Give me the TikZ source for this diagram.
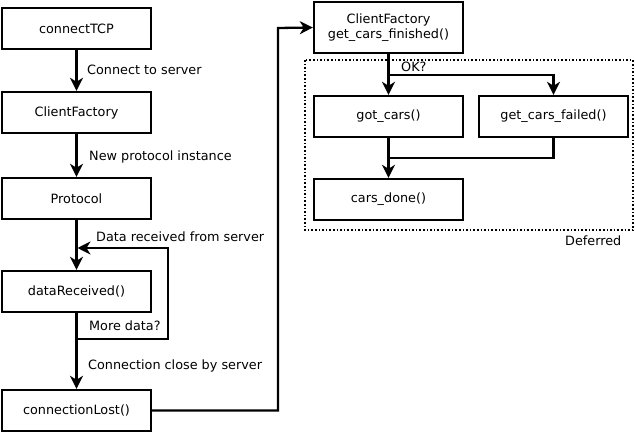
\documentclass[tikz,border=0pt]{standalone}
\usepackage{fontspec}
\setmainfont{DejaVu Sans}
\usetikzlibrary{arrows.meta}
\begin{document}
\begin{tikzpicture}[x=1pt,y=-1pt,
  font=\fontsize{12.8}{15}\selectfont,
  box/.style={draw,line width=2.4pt,minimum width=149pt,minimum height=41pt,inner sep=0pt,align=center},
  arr/.style={line width=2.3pt,-{Stealth[length=13pt,width=13pt,inset=4pt]}},
  wire/.style={line width=2.3pt},
  lbl/.style={anchor=west,inner sep=0pt}]
\useasboundingbox (0,0) rectangle (635,433);
% left column
\node[box] (tcp)  at (76.5,28.5)  {connectTCP};
\node[box] (cf)   at (76.5,112.5) {ClientFactory};
\node[box] (prot) at (76.5,198.5) {Protocol};
\node[box] (dr)   at (76.5,291.5) {dataReceived()};
\node[box] (cl)   at (76.5,410.5) {connectionLost()};
% right column
\node[box,minimum width=149pt,minimum height=51pt] (cf2) at (388.5,27.5)
  {ClientFactory\\get\_cars\_finished()};
\node[box,minimum height=41pt] (got)  at (388.5,116.5) {got\_cars()};
\node[box,minimum width=149pt,minimum height=41pt] (fail) at (553.5,116.5) {get\_cars\_failed()};
\node[box,minimum height=41pt] (done) at (388.5,199.5)   {cars\_done()};
% deferred frame
\draw[line width=1.6pt,dotted] (305,60) rectangle (633,230);
\node[lbl] (deflbl) at (565,241) {Deferred};
% connectors on the left
\draw[arr] (tcp.south) -- (cf.north);
\draw[arr] (cf.south) -- (prot.north);
\draw[arr] (prot.south) -- (dr.north);
\draw[arr] (dr.south) -- (cl.north);
\coordinate (more) at (76.5,339);
\coordinate (moreR) at (168,339);
\coordinate (back) at (77.5,248);
\draw[arr] (more) -- (moreR) |- (back);
\coordinate (bend) at (278,28);
\draw[arr] (cl.east) -| (bend) -- (cf2.west);
% connectors on the right
\draw[arr] (cf2.south) -- (got.north);
\coordinate (ok) at (388.5,75);
\draw[arr] (ok) -| (fail.north);
\coordinate (join) at (388.5,158);
\draw[wire] (fail.south) |- (join);
\draw[arr] (got.south) -- (done.north);
% labels
\node[lbl] (l1) at (87,70)   {Connect to server};
\node[lbl] (l2) at (89,157)  {New protocol instance};
\node[lbl] (l3) at (96,237)  {Data received from server};
\node[lbl] (l4) at (89,326)  {More data?};
\node[lbl] (l5) at (88,366)  {Connection close by server};
\node[lbl] (l6) at (401,67)  {OK?};
\end{tikzpicture}
\end{document}
